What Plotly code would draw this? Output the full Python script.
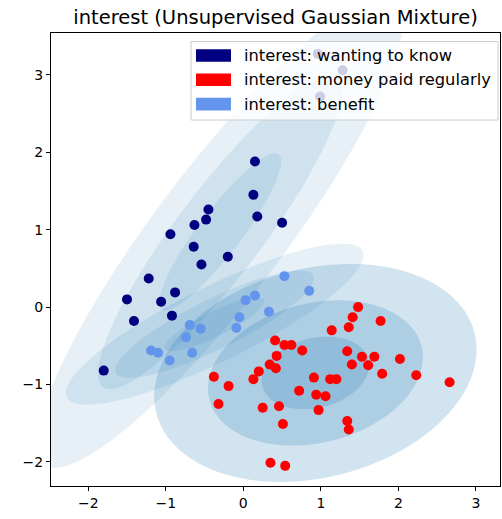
import numpy as np
import plotly.graph_objects as go

# scatter points per class
know_x = [0.15, 0.13, 0.18, 0.50, -0.45, -0.48, -0.63, -0.94, -0.64, -0.20, -0.54,
          -1.22, -1.50, -0.88, -1.06, -1.41, -0.92, -1.80, 0.96, 1.28, 0.99]
know_y = [1.88, 1.45, 1.17, 1.09, 1.26, 1.13, 1.06, 0.94, 0.78, 0.65, 0.55,
          0.37, 0.10, 0.19, 0.07, -0.18, -0.11, -0.82, 3.27, 3.06, 2.72]

paid_x = [0.41, 0.53, 0.43, 0.34, 0.42, 0.20, 0.13, -0.38, -0.19, -0.32, 0.25, 0.46,
          0.51, 0.35, 0.54, 1.48, 1.41, 1.36, 1.77, 1.14, 0.62, 0.76, 1.34, 1.53,
          1.69, 1.40, 1.61, 2.02, 1.79, 2.23, 2.66, 0.91, 1.12, 1.20, 0.72, 0.94,
          1.06, 0.97, 1.34, 1.36]
paid_y = [-0.43, -0.49, -0.63, -0.74, -0.79, -0.83, -0.93, -0.90, -1.02, -1.25, -1.30, -1.28,
          -1.51, -2.01, -2.05, 0.00, -0.13, -0.26, -0.18, -0.30, -0.49, -0.56, -0.57, -0.64,
          -0.64, -0.74, -0.75, -0.67, -0.86, -0.88, -0.97, -0.91, -0.93, -0.93, -1.08, -1.13,
          -1.15, -1.33, -1.47, -1.58]

benefit_x = [0.53, 0.85, 0.15, 0.03, 0.33, -0.05, -0.09, -0.69, -0.55, -0.74, -1.19, -1.10, -0.66, -0.95]
benefit_y = [0.40, 0.21, 0.15, 0.09, -0.06, -0.13, -0.27, -0.23, -0.28, -0.39, -0.56, -0.59, -0.59, -0.69]

# fitted gaussian mixture (estimated)
gmm_means = [[-0.30, 0.97], [-0.37, -0.22], [0.93, -0.85]]
gmm_covs = [[[0.62, 0.72], [0.72, 1.03]],
            [[0.41, 0.19], [0.19, 0.12]],
            [[0.48, 0.07], [0.07, 0.22]]]
gmm_weights = [0.27, 0.26, 0.47]

labels = ['interest: wanting to know', 'interest: money paid regularly', 'interest: benefit']
colors = ['rgb(0,0,128)', 'rgb(255,0,0)', 'rgb(100,149,237)']

FONT = 'DejaVu Sans'


def ellipse_path(mean, cov, nsig, n=120):
    vals, vecs = np.linalg.eigh(np.array(cov))
    t = np.linspace(0, 2 * np.pi, n)
    circle = np.vstack([np.cos(t), np.sin(t)]) * (nsig * np.sqrt(vals))[:, None]
    pts = vecs @ circle + np.array(mean)[:, None]
    path = 'M ' + ' L '.join('%.4f,%.4f' % (px, py) for px, py in pts.T) + ' Z'
    return path


shapes = []
w_factor = 0.2 / max(gmm_weights)
for mean, cov, w in zip(gmm_means, gmm_covs, gmm_weights):
    for nsig in range(1, 4):
        shapes.append(dict(type='path', path=ellipse_path(mean, cov, nsig),
                           xref='x', yref='y', layer='below',
                           fillcolor='rgba(31,119,180,%.3f)' % (w * w_factor),
                           line=dict(width=0)))

fig = go.Figure()
for xs, ys, name, col in [(know_x, know_y, labels[0], colors[0]),
                          (paid_x, paid_y, labels[1], colors[1]),
                          (benefit_x, benefit_y, labels[2], colors[2])]:
    fig.add_trace(go.Scatter(x=xs, y=ys, mode='markers', name=name,
                             marker=dict(color=col, size=10), showlegend=False))

# legend drawn by hand, matplotlib style (paper coords)
W, H = 502, 519
L, R, T, B = 51, 500, 33, 486


def px_x(p):
    return (p - L) / (R - L)


def px_y(p):
    return (B - p) / (B - T)


shapes.append(dict(type='rect', xref='paper', yref='paper', layer='above',
                   x0=px_x(191), x1=px_x(498), y0=px_y(120), y1=px_y(41.5),
                   fillcolor='rgba(255,255,255,0.8)', line=dict(color='#cccccc', width=1)))
annotations = []
for i, (name, col) in enumerate(zip(labels, colors)):
    cy = 55.5 + i * 24.3
    shapes.append(dict(type='rect', xref='paper', yref='paper', layer='above',
                       x0=px_x(196), x1=px_x(231), y0=px_y(cy + 6.3), y1=px_y(cy - 6.3),
                       fillcolor=col, line=dict(width=0)))
    annotations.append(dict(text=name, xref='paper', yref='paper', x=px_x(242), y=px_y(cy),
                            xanchor='left', yanchor='middle', showarrow=False,
                            font=dict(family=FONT, size=16.3, color='black')))

axis_style = dict(showline=True, mirror=True, linecolor='black', linewidth=1,
                  ticks='outside', ticklen=4, tickwidth=1, tickcolor='black',
                  showgrid=False, zeroline=False,
                  tickvals=[-2, -1, 0, 1, 2, 3],
                  tickfont=dict(family=FONT, size=14, color='black'))

fig.update_layout(
    width=W, height=H,
    margin=dict(l=L, r=W - R, t=T, b=H - B),
    plot_bgcolor='white', paper_bgcolor='white',
    title=dict(text='interest (Unsupervised Gaussian Mixture)', x=(L + R) / 2 / W, xanchor='center',
               y=1 - 17 / H, yanchor='middle', yref='container',
               font=dict(family=FONT, size=19.5, color='black')),
    xaxis=dict(range=[-2.48, 3.31], **axis_style),
    yaxis=dict(range=[-2.31, 3.54], **axis_style),
    shapes=shapes,
    annotations=annotations,
)

# page body has a default 8px margin; drop it so the figure sits at the window corner
fig.write_html('out.html', config={'displayModeBar': False},
               post_script="document.body.style.margin='0';")
